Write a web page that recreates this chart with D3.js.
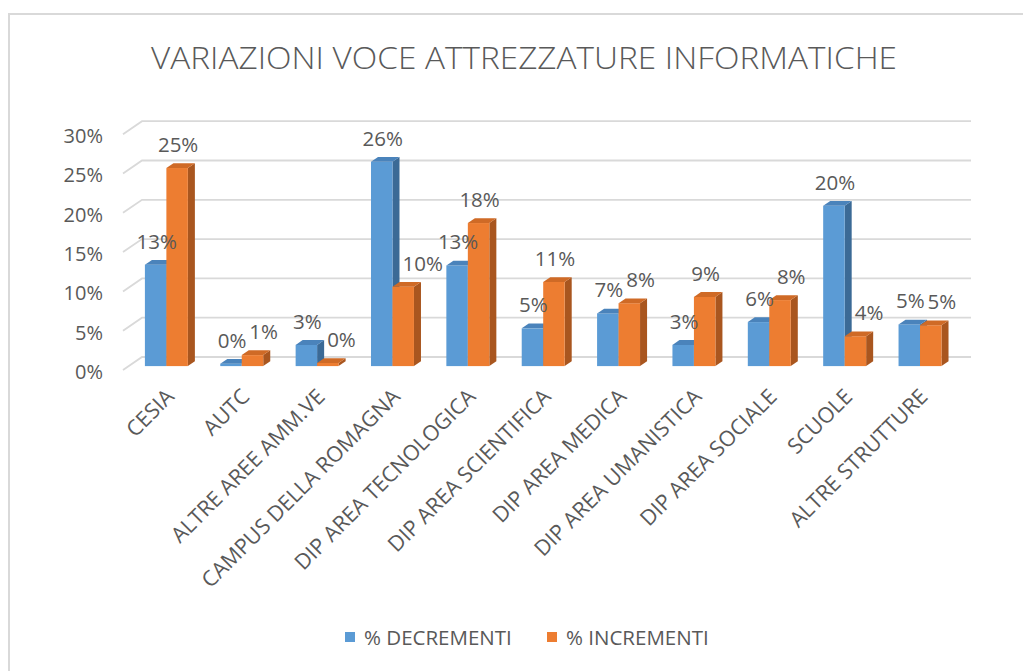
<!DOCTYPE html>
<html>
<head>
<meta charset="utf-8">
<script src="https://cdn.jsdelivr.net/npm/d3@7"></script>
<style>
  body { margin: 0; background: #fff; }
  text { font-family: "Open Sans", "DejaVu Sans", sans-serif; fill: #595959; }
</style>
</head>
<body>
<div id="chart"></div>
<script>
// categories and values (percent)
const categories = ["CESIA", "AUTC", "ALTRE AREE AMM.VE", "CAMPUS DELLA ROMAGNA",
  "DIP AREA TECNOLOGICA", "DIP AREA SCIENTIFICA", "DIP AREA MEDICA",
  "DIP AREA UMANISTICA", "DIP AREA SOCIALE", "SCUOLE", "ALTRE STRUTTURE"];
const decrementi = [12.9, 0.3, 2.7, 26.0, 12.8, 4.8, 6.7, 2.7, 5.6, 20.4, 5.3];
const incrementi = [25.2, 1.4, 0.4, 10.1, 18.2, 10.7, 8.0, 8.8, 8.4, 3.8, 5.2];
const yTicks = [0, 5, 10, 15, 20, 25, 30];
const seriesNames = ["% DECREMENTI", "% INCREMENTI"];

const svgWidth = 1023;
const svgHeight = 671;

// 3d look: floor depth vector and bar depth
const floorDepth = { dx: 19, dy: -13 };
const barStart = 0.3;   // where bars start along the floor depth
const barDepth = 0.37;  // how deep bars are

const colors = [
  { front: "#5b9bd5", side: "#3b6a96", top: "#4a83bb" },
  { front: "#ed7d31", side: "#a9561f", top: "#cf6a26" }
];

const svg = d3.select("#chart").append("svg")
  .attr("width", svgWidth)
  .attr("height", svgHeight);

// outer frame
svg.append("rect")
  .attr("x", 9).attr("y", 14)
  .attr("width", 1030).attr("height", 680)
  .attr("fill", "none")
  .attr("stroke", "#d9d9d9")
  .attr("stroke-width", 2);

// title
svg.append("text")
  .attr("x", 151)
  .attr("y", 69)
  .attr("textLength", 746)
  .attr("lengthAdjust", "spacingAndGlyphs")
  .style("font-size", "32px")
  .style("font-weight", 300)
  .text("VARIAZIONI VOCE ATTREZZATURE INFORMATICHE");

// scales (front plane)
const xScale = d3.scaleBand()
  .domain(categories)
  .range([123, 952]);

const xSub = d3.scaleBand()
  .domain([0, 1])
  .range([xScale.step() * 0.215, xScale.step() * 0.785]);

const yScale = d3.scaleLinear()
  .domain([0, 30])
  .range([370, 370 - 30 * 7.86]);

const x1 = 952;

// gridlines: left side wall diagonal + back wall
const grid = svg.append("g");
yTicks.forEach(function (t) {
  const y = yScale(t);
  grid.append("polyline")
    .attr("points", [
      [123, y],
      [123 + floorDepth.dx, y + floorDepth.dy],
      [x1 + floorDepth.dx, y + floorDepth.dy]
    ].map(p => p.join(",")).join(" "))
    .attr("fill", "none")
    .attr("stroke", "#d9d9d9")
    .attr("stroke-width", 1.8);
});

// y axis labels
const yAxis = d3.axisLeft(yScale)
  .tickValues(yTicks)
  .tickFormat(d => d + "%")
  .tickSize(0)
  .tickPadding(0);

const yAxisG = svg.append("g")
  .attr("transform", "translate(103, 2)")
  .call(yAxis);
yAxisG.select(".domain").remove();
yAxisG.selectAll("text")
  .style("font-size", "20px")
  .style("font-family", null)
  .attr("fill", "#595959");

// bars
const bx = barStart * floorDepth.dx;
const by = barStart * floorDepth.dy;
const ddx = barDepth * floorDepth.dx;
const ddy = barDepth * floorDepth.dy;

const allSeries = [decrementi, incrementi];
const barsG = svg.append("g");
const labelsG = svg.append("g");

categories.forEach(function (cat, i) {
  const boxes = [];
  allSeries.forEach(function (vals, s) {
    const v = vals[i];
    const xl = xScale(cat) + xSub(s) + bx;
    const xr = xl + xSub.bandwidth();
    const yb = yScale(0) + by;
    const yt = yScale(v) + by;
    const g = barsG.append("g");
    g.append("polygon")
      .attr("points", [[xr, yt], [xr + ddx, yt + ddy], [xr + ddx, yb + ddy], [xr, yb]].map(p => p.join(",")).join(" "))
      .attr("fill", colors[s].side);
    g.append("rect")
      .attr("x", xl).attr("y", yt)
      .attr("width", xSub.bandwidth())
      .attr("height", yb - yt)
      .attr("fill", colors[s].front);
    g.append("polygon")
      .attr("points", [[xl, yt], [xl + ddx, yt + ddy], [xr + ddx, yt + ddy], [xr, yt]].map(p => p.join(",")).join(" "))
      .attr("fill", colors[s].top);

    // data label
    const lbl = labelsG.append("text")
      .attr("x", (xl + xr) / 2 + 1)
      .attr("y", yt - 24)
      .attr("text-anchor", "middle")
      .attr("dominant-baseline", "central")
      .style("font-size", "20.5px")
      .text(Math.round(v) + "%");

    if (s === 1) {
      // keep the orange label clear of the blue bar and blue label
      let bb = lbl.node().getBBox();
      const blueLbl = boxes[0].label;
      const blueBar = boxes[0].bar;
      let shiftTo = null;
      [blueLbl, blueBar].forEach(function (o) {
        const hit = bb.x < o.x + o.width && bb.x + bb.width > o.x &&
          bb.y < o.y + o.height && bb.y + bb.height > o.y;
        if (hit) shiftTo = Math.max(shiftTo || 0, o.x + o.width + 3);
      });
      if (shiftTo !== null) {
        lbl.attr("x", shiftTo + bb.width / 2);
      }
    } else {
      boxes.push({
        label: lbl.node().getBBox(),
        bar: { x: xl, y: yt + ddy, width: xr - xl + ddx, height: yb - yt - ddy }
      });
    }
  });
});

// category labels
svg.append("g")
  .selectAll("text")
  .data(categories)
  .enter()
  .append("text")
  .attr("transform", d => `translate(${xScale(d) + xScale.bandwidth() / 2 + bx + 9}, 398) rotate(-45)`)
  .attr("text-anchor", "end")
  .style("font-size", "21.5px")
  .text(d => d);

// legend
const legend = svg.append("g");
const legendX = [345, 547];
seriesNames.forEach(function (name, s) {
  legend.append("rect")
    .attr("x", legendX[s]).attr("y", 632)
    .attr("width", 10).attr("height", 10)
    .attr("fill", colors[s].front);
  legend.append("text")
    .attr("x", legendX[s] + 19)
    .attr("y", 637)
    .attr("dominant-baseline", "central")
    .style("font-size", "20.5px")
    .text(name);
});
</script>
</body>
</html>
